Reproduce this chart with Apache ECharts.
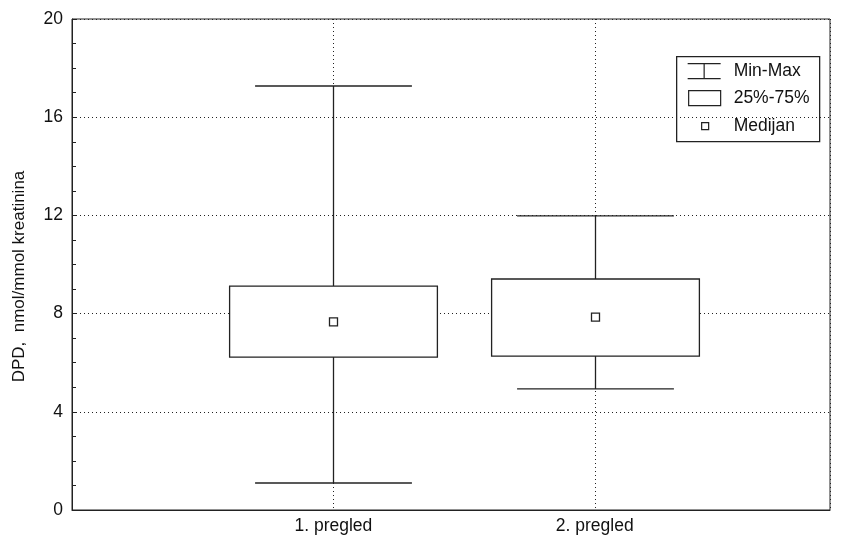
<!DOCTYPE html>
<html>
<head>
<meta charset="utf-8">
<script src="https://cdn.jsdelivr.net/npm/echarts@6/dist/echarts.min.js"></script>
<style>html,body{margin:0;padding:0;background:#fff}#c{width:843px;height:540px}</style>
</head>
<body>
<div id="c"></div>
<script>
const categories = ['1. pregled', '2. pregled'];
const minVals = [1.1, 4.93];
const q1Vals = [6.23, 6.27];
const medianVals = [7.66, 7.86];
const q3Vals = [9.12, 9.41];
const maxVals = [17.27, 11.98];
const yTicks = [0, 4, 8, 12, 16, 20];
const legendLabels = ['Min-Max', '25%-75%', 'Medijan'];

const FONT = '"Liberation Sans", Arial, sans-serif';
const INK = '#222';
const FS = 17.5;

const data = categories.map((c, i) => [i + 1, minVals[i], q1Vals[i], medianVals[i], q3Vals[i], maxVals[i]]);

function renderItem(params, api) {
  const x = api.value(0);
  const pMin = api.coord([x, api.value(1)]);
  const pQ1 = api.coord([x, api.value(2)]);
  const pMed = api.coord([x, api.value(3)]);
  const pQ3 = api.coord([x, api.value(4)]);
  const pMax = api.coord([x, api.value(5)]);
  const boxW = api.size([0.795, 0])[0];
  const capW = api.size([0.6, 0])[0];
  const ls = { stroke: INK, lineWidth: 1.3, fill: null };
  const cx = Math.round(pMed[0]) + 0.5;
  return {
    type: 'group',
    children: [
      { type: 'line', shape: { x1: cx, y1: pMin[1], x2: cx, y2: pQ1[1] }, style: ls },
      { type: 'line', shape: { x1: cx, y1: pQ3[1], x2: cx, y2: pMax[1] }, style: ls },
      { type: 'line', shape: { x1: cx - capW / 2, y1: pMin[1], x2: cx + capW / 2, y2: pMin[1] }, style: ls },
      { type: 'line', shape: { x1: cx - capW / 2, y1: pMax[1], x2: cx + capW / 2, y2: pMax[1] }, style: ls },
      { type: 'rect', shape: { x: cx - boxW / 2, y: pQ3[1], width: boxW, height: pQ1[1] - pQ3[1] }, style: { stroke: INK, lineWidth: 1.3, fill: '#fff' } },
      { type: 'rect', shape: { x: cx - 4, y: pMed[1] - 4, width: 8, height: 8 }, style: { stroke: INK, lineWidth: 1.3, fill: '#fff' } }
    ]
  };
}

const chart = echarts.init(document.getElementById('c'), null, { renderer: 'canvas' });
const lx = 676, ly = 56;
chart.setOption({
  animation: false,
  backgroundColor: '#fff',
  grid: { left: 72, right: 13, top: 19, bottom: 30, show: true, borderColor: INK, borderWidth: 1 },
  xAxis: {
    type: 'value', min: 0, max: 2.9, interval: 1,
    axisLine: { show: true, lineStyle: { color: INK } },
    axisTick: { show: false },
    axisLabel: {
      showMaxLabel: false, showMinLabel: false,
      fontFamily: FONT, fontSize: FS, color: '#111', margin: 7,
      formatter: v => (v === 1 ? categories[0] : v === 2 ? categories[1] : '')
    },
    splitLine: { show: true, lineStyle: { type: [1, 3], color: INK } }
  },
  yAxis: {
    type: 'value', min: yTicks[0], max: yTicks[yTicks.length - 1], interval: 4,
    name: 'DPD,  nmol/mmol kreatinina', nameLocation: 'middle', nameGap: 44, nameRotate: 90,
    nameTextStyle: { fontFamily: FONT, fontSize: 17, color: '#111', padding: [0, 24, 0, 0] },
    axisLine: { show: true, lineStyle: { color: INK } },
    axisTick: { show: true, inside: true, length: 4, lineStyle: { color: INK } },
    minorTick: { show: true, splitNumber: 4, length: 4, lineStyle: { color: INK } },
    axisLabel: { fontFamily: FONT, fontSize: FS, color: '#111', margin: 9 },
    splitLine: { show: true, lineStyle: { type: [1, 3], color: INK } }
  },
  series: [{
    type: 'custom',
    renderItem: renderItem,
    encode: { x: 0, y: [1, 2, 3, 4, 5] },
    data: data,
    z: 10
  }],
  graphic: [{
    type: 'group', left: lx, top: ly, z: 100,
    children: [
      { type: 'rect', shape: { x: 0, y: 0, width: 143, height: 85 }, style: { fill: '#fff', stroke: INK, lineWidth: 1.3 } },
      { type: 'line', shape: { x1: 11, y1: 7, x2: 44, y2: 7 }, style: { stroke: INK, lineWidth: 1.2 } },
      { type: 'line', shape: { x1: 27.5, y1: 7, x2: 27.5, y2: 22 }, style: { stroke: INK, lineWidth: 1.2 } },
      { type: 'line', shape: { x1: 11, y1: 22, x2: 44, y2: 22 }, style: { stroke: INK, lineWidth: 1.2 } },
      { type: 'text', x: 57, y: 15, style: { text: legendLabels[0], font: FS + 'px ' + FONT, fill: '#111', textVerticalAlign: 'middle' } },
      { type: 'rect', shape: { x: 12, y: 34, width: 32, height: 15 }, style: { fill: '#fff', stroke: INK, lineWidth: 1.2 } },
      { type: 'text', x: 57, y: 42, style: { text: legendLabels[1], font: FS + 'px ' + FONT, fill: '#111', textVerticalAlign: 'middle' } },
      { type: 'rect', shape: { x: 25, y: 66, width: 7, height: 7 }, style: { fill: '#fff', stroke: INK, lineWidth: 1.2 } },
      { type: 'text', x: 57, y: 70, style: { text: legendLabels[2], font: FS + 'px ' + FONT, fill: '#111', textVerticalAlign: 'middle' } }
    ]
  }]
});
</script>
</body>
</html>
